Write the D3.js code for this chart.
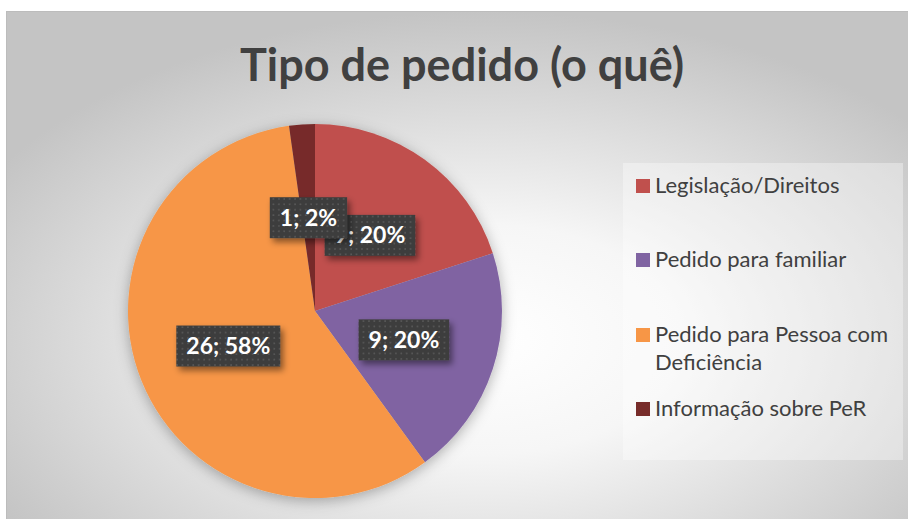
<!DOCTYPE html>
<html>
<head>
<meta charset="utf-8">
<script src="https://cdn.jsdelivr.net/npm/d3@7"></script>
<style>
  body { margin: 0; background: #fff; }
  svg { display: block; }
</style>
</head>
<body>
<svg width="908" height="519"></svg>
<script>
// Data
let categories = ['Legislação/Direitos', 'Pedido para familiar', 'Pedido para Pessoa com Deficiência', 'Informação sobre PeR'];
let legendLines = [['Legislação/Direitos'], ['Pedido para familiar'], ['Pedido para Pessoa com', 'Deficiência'], ['Informação sobre PeR']];
let values = [9, 9, 26, 1];
let percents = ['20%', '20%', '58%', '2%'];
let colors = ['#C0504D', '#8064A2', '#F79646', '#772C2A'];

let svg = d3.select('svg');
let width = +svg.attr('width');
let height = +svg.attr('height');
let font = 'Lato, "Open Sans", sans-serif';

let defs = svg.append('defs');

// Background radial gradient
let grad = defs.append('radialGradient')
    .attr('id', 'bg')
    .attr('cx', '52%').attr('cy', '62%').attr('r', '62%');
grad.append('stop').attr('offset', '0%').attr('stop-color', '#ffffff');
grad.append('stop').attr('offset', '35%').attr('stop-color', '#f6f6f6');
grad.append('stop').attr('offset', '100%').attr('stop-color', '#c4c4c4');

// Dotted pattern for label boxes
let pat = defs.append('pattern')
    .attr('id', 'dots')
    .attr('patternUnits', 'userSpaceOnUse')
    .attr('width', 5.4).attr('height', 5.4);
pat.append('rect').attr('width', 5.4).attr('height', 5.4).attr('fill', '#3d3d3d');
pat.append('rect').attr('x', 2).attr('y', 2).attr('width', 1.6).attr('height', 1.6).attr('fill', '#595959');

// Shadows
let pieShadow = defs.append('filter').attr('id', 'pieShadow')
    .attr('x', '-20%').attr('y', '-20%').attr('width', '140%').attr('height', '140%');
pieShadow.append('feDropShadow')
    .attr('dx', 0).attr('dy', 3).attr('stdDeviation', 7)
    .attr('flood-color', '#000').attr('flood-opacity', 0.3);

let boxShadow = defs.append('filter').attr('id', 'boxShadow')
    .attr('x', '-20%').attr('y', '-30%').attr('width', '150%').attr('height', '170%');
boxShadow.append('feDropShadow')
    .attr('dx', 3).attr('dy', 4).attr('stdDeviation', 3)
    .attr('flood-color', '#000').attr('flood-opacity', 0.45);

// Chart area
svg.append('rect')
    .attr('x', 6.5).attr('y', 11.5)
    .attr('width', width + 10).attr('height', height + 10)
    .attr('fill', 'url(#bg)')
    .attr('stroke', '#bcbcbc');

// Title
svg.append('text')
    .attr('x', 462).attr('y', 81)
    .attr('text-anchor', 'middle')
    .attr('font-family', font)
    .attr('font-weight', 'bold')
    .attr('font-size', '45px')
    .attr('fill', '#404040')
    .text('Tipo de pedido (o quê)');

// Pie
let cx = 315, cy = 311, radius = 187;
let pie = d3.pie().sort(null).value(d => d);
let arcs = pie(values);
let arc = d3.arc().innerRadius(0).outerRadius(radius);
let labelArc = d3.arc().innerRadius(radius * 0.5).outerRadius(radius * 0.5);

let g = svg.append('g')
    .attr('transform', 'translate(' + cx + ',' + cy + ')');

g.append('g')
    .attr('filter', 'url(#pieShadow)')
    .selectAll('path')
    .data(arcs)
    .enter().append('path')
    .attr('d', arc)
    .attr('fill', (d, i) => colors[i]);

// Data labels
let labels = g.selectAll('g.label')
    .data(arcs)
    .enter().append('g')
    .attr('class', 'label')
    .attr('transform', d => 'translate(' + labelArc.centroid(d) + ')');

let labelRects = labels.append('rect')
    .attr('fill', 'url(#dots)')
    .attr('filter', 'url(#boxShadow)');

let labelTexts = labels.append('text')
    .attr('text-anchor', 'middle')
    .attr('dy', '0.35em')
    .attr('font-family', font)
    .attr('font-weight', 'bold')
    .attr('font-size', '23px')
    .attr('fill', '#ffffff')
    .text((d, i) => values[i] + '; ' + percents[i]);

labelTexts.each(function(d, i) {
    let w = this.getComputedTextLength() + 20;
    let h = 41;
    d3.select(labelRects.nodes()[i])
        .attr('x', -w / 2).attr('y', -h / 2)
        .attr('width', w).attr('height', h);
});

// Legend
svg.append('rect')
    .attr('x', 623).attr('y', 163)
    .attr('width', 280).attr('height', 297)
    .attr('fill', '#ffffff')
    .attr('fill-opacity', 0.35);

let legendY = [193, 267, 342, 416];
let legend = svg.selectAll('g.legend')
    .data(categories)
    .enter().append('g')
    .attr('class', 'legend')
    .attr('transform', (d, i) => 'translate(636,' + legendY[i] + ')');

legend.append('rect')
    .attr('x', 0).attr('y', -14)
    .attr('width', 14).attr('height', 14)
    .attr('fill', (d, i) => colors[i]);

legend.append('text')
    .attr('font-family', font)
    .attr('font-size', '22px')
    .attr('fill', '#404040')
    .selectAll('tspan')
    .data((d, i) => legendLines[i])
    .enter().append('tspan')
    .attr('x', 19)
    .attr('y', (d, j) => j * 28)
    .text(d => d);
</script>
</body>
</html>
